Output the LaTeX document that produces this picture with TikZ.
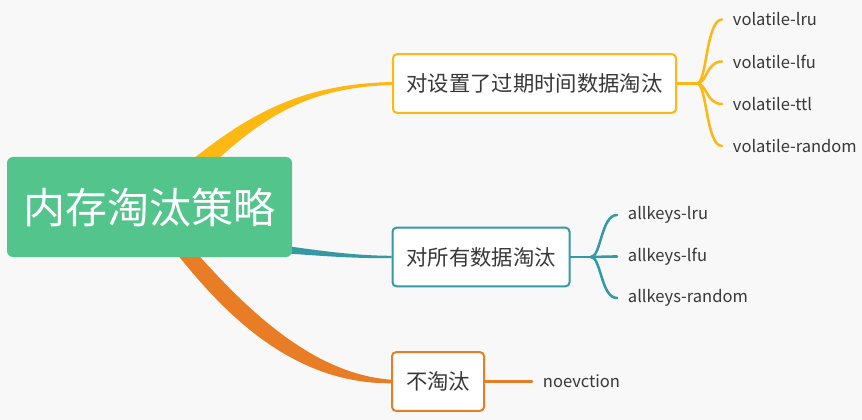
\documentclass[tikz,border=0pt]{standalone}
\usepackage{fontspec}
\setmainfont{Noto Sans CJK SC}
\usetikzlibrary{calc}
\definecolor{bgcol}{HTML}{F8F8F8}
\definecolor{rootgreen}{HTML}{52C48C}
\definecolor{ylw}{HTML}{FDB813}
\definecolor{tealc}{HTML}{3399A5}
\definecolor{orng}{HTML}{E87D25}
\definecolor{txt}{HTML}{383838}

\begin{document}
\begin{tikzpicture}[x=0.75pt,y=-0.75pt,
    topic/.style={draw=#1, line width=1.5pt, fill=white, rounded corners=3pt,
        text=txt, font=\fontsize{16}{18}\selectfont, inner sep=0pt, minimum height=44pt},
    leaf/.style={anchor=west, text=txt, font=\fontsize{12.4}{14}\selectfont,
        inner xsep=8pt, inner ysep=2pt},
    twig/.style={draw=#1, line width=1.9pt, line cap=round}]
    \useasboundingbox[fill=bgcol] (0,0) rectangle (862,420);
    \coordinate (rc) at (149.5,207);
    % topics
    \node[topic=ylw, minimum width=212.25pt] (b1) at (534.5,83.5) {对设置了过期时间数据淘汰};
    \node[topic=tealc, minimum width=132.75pt] (b2) at (481,257) {对所有数据淘汰};
    \node[topic=orng, minimum width=69pt] (b3) at (438,381.5) {不淘汰};
    % tapered branches
    \fill[ylw] ($(rc)+(0.5,-12)$) .. controls (236,120) and (290,84.5) .. ($(b1.west)+(0,-1.5)$)
        -- ($(b1.west)+(0,1.5)$) .. controls (290,88) and (246,130) .. ($(rc)+(20.5,-2)$) -- cycle;
    \fill[tealc] ($(rc)+(90.5,33)$) .. controls (300,247) and (340,255.5) .. ($(b2.west)+(0,-1.2)$)
        -- ($(b2.west)+(0,1.2)$) .. controls (340,258.5) and (300,254) .. ($(rc)+(90.5,43)$) -- cycle;
    \fill[orng] ($(rc)+(10.5,25)$) .. controls (210,298) and (282,384) .. ($(b3.west)+(0,1.8)$)
        -- ($(b3.west)+(0,-1.8)$) .. controls (298,373) and (222,282) .. ($(rc)+(22.5,18)$) -- cycle;
    % root
    \node[fill=rootgreen, rounded corners=4.5pt, minimum width=213.75pt, minimum height=75pt,
        text=white, font=\fontsize{31.5}{34}\selectfont] (root) at (rc) {内存淘汰策略};
    % leaves
    \node[leaf] (v1) at (722,19.5) {volatile-lru};
    \node[leaf] (v2) at (722,61.5) {volatile-lfu};
    \node[leaf] (v3) at (722,104) {volatile-ttl};
    \node[leaf] (v4) at (722,146) {volatile-random};
    \node[leaf] (a1) at (617,215) {allkeys-lru};
    \node[leaf] (a2) at (617,256.5) {allkeys-lfu};
    \node[leaf] (a3) at (617,298) {allkeys-random};
    \node[leaf] (n1) at (532,381.5) {noevction};
    % brackets
    \coordinate (j1) at (697,83.5);
    \coordinate (j2) at (591,257);
    \draw[twig=ylw] (b1.east) -- (j1);
    \foreach \leafname in {v1,v2,v3,v4}
        \draw[twig=ylw] (j1) .. controls ($(j1)+(10,0)$) and ($(\leafname.west)+(-16,0)$) .. (\leafname.west);
    \draw[twig=tealc] (b2.east) -- (j2);
    \foreach \leafname in {a1,a2,a3}
        \draw[twig=tealc] (j2) .. controls ($(j2)+(10,0)$) and ($(\leafname.west)+(-16,0)$) .. (\leafname.west);
    \draw[twig=orng] (b3.east) -- (n1.west);
\end{tikzpicture}
\end{document}
